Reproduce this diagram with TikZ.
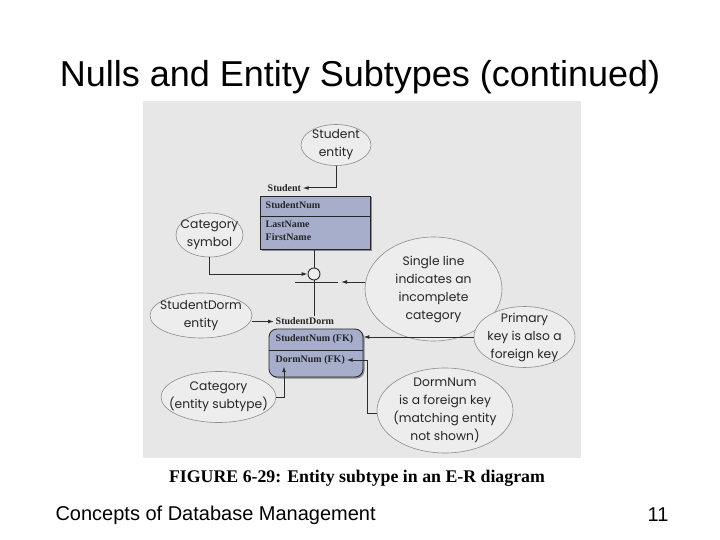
\documentclass[tikz,border=0pt]{standalone}
\usepackage{fontspec}
\setmainfont{Liberation Sans}
\newfontfamily\bubfont{Poppins}
\newfontfamily\keyfont{Liberation Serif}
\usetikzlibrary{shapes.geometric,arrows.meta,shadows,calc}
\definecolor{panelgray}{RGB}{231,231,231}
\definecolor{bubgray}{RGB}{237,237,237}
\definecolor{tabblue}{RGB}{166,174,204}
\definecolor{inkgray}{RGB}{45,45,45}

\begin{document}
\begin{tikzpicture}[x=1pt, y=-1pt]
  \tikzstyle{bubble}=[ellipse, draw=black!45, fill=bubgray, line width=0.6pt, inner sep=0pt]
  \tikzstyle{bubtext}=[align=center, inner sep=0pt, text=black!85,
                       font=\bubfont\fontsize{12.3}{18}\selectfont]
  \tikzstyle{tab}=[draw=black!85, fill=tabblue, line width=0.8pt,
                   drop shadow={shadow xshift=1.5pt, shadow yshift=-1.5pt, fill=black!70, opacity=0.6}]
  \tikzstyle{keytxt}=[anchor=west, inner sep=1.5pt, text=black!85,
                      font=\keyfont\bfseries\fontsize{10}{13}\selectfont]
  \tikzstyle{conn}=[draw=inkgray, line width=1pt]
  \tikzstyle{arr}=[conn, -{Latex[length=6pt, width=4pt]}]

  \useasboundingbox (0,0) rectangle (720,540);
  \fill[panelgray] (143,101) rectangle (581,458);

  \node[font=\fontsize{36}{42}\selectfont] (title) at (360,77) {Nulls and Entity Subtypes (continued)};

  % entity boxes
  \node[tab, minimum width=110, minimum height=53] (stutab) at (315,222.5) {};
  \draw[black!85, line width=0.8pt] ([yshift=-21pt]stutab.north west) -- ([yshift=-21pt]stutab.north east);
  \node[keytxt] (snum) at (264,205) {StudentNum};
  \node[keytxt] (lname) at (264,224) {LastName};
  \node[keytxt] (fname) at (264,237) {FirstName};
  \node[keytxt] (stulbl) at (266,188) {Student};

  \node[tab, rounded corners=8pt, minimum width=94, minimum height=48] (sdtab) at (316,353) {};
  \draw[black!85, line width=0.8pt] ([yshift=-22pt]sdtab.north west) -- ([yshift=-22pt]sdtab.north east);
  \node[keytxt] (sfk) at (274,339) {StudentNum (FK)};
  \node[keytxt] (dfk) at (274,360) {DormNum (FK)};
  \node[keytxt] (sdlbl) at (274,321.5) {StudentDorm};

  % category symbol
  \node[draw=inkgray, circle, line width=0.9pt, minimum size=12pt, inner sep=0pt, fill=bubgray] (catsym) at (314,274) {};
  \coordinate (barl) at (295,282);
  \coordinate (barr) at (338,282);
  \draw[conn] (barl) -- (barr);
  \draw[conn] (stutab.south -| catsym.north) -- (catsym.north);
  \draw[conn] (catsym.south) -- (catsym.south |- sdlbl.north);

  % callouts
  \node[bubble, minimum width=70, minimum height=41, label={[bubtext]center:Student\\entity}] (stu) at (336,145) {};
  \node[bubble, minimum width=67, minimum height=44, label={[bubtext]center:Category\\symbol}] (csym) at (209.5,235) {};
  \node[bubble, minimum width=137, minimum height=104, label={[bubtext]center:Single line\\indicates an\\incomplete\\category}] (single) at (433.5,289) {};
  \node[bubble, minimum width=102, minimum height=45, label={[bubtext]center:StudentDorm\\entity}] (sdent) at (201,315.5) {};
  \node[bubble, minimum width=101, minimum height=61, label={[bubtext]center:Primary\\key is also a\\foreign key}] (pkey) at (524.5,337) {};
  \node[bubble, minimum width=115, minimum height=51, label={[bubtext]center:Category\\(entity subtype)}] (csub) at (218.5,397) {};
  \node[bubble, minimum width=136, minimum height=85, label={[bubtext]center:DormNum\\is a foreign key\\(matching entity\\not shown)}] (dnum) at (445,410.5) {};

  \draw[arr] (stu.south) |- (stulbl.east);
  \draw[arr] (csym.south) |- (catsym.west);
  \draw[arr] (single.west |- barr) -- ([xshift=3pt]barr);
  \draw[arr] (sdent.east |- sdlbl.west) -- (sdlbl.west);
  \draw[arr] (pkey.west) -- (pkey.west -| sdtab.east);
  \draw[arr] (csub.east) -| ([xshift=10pt]dfk.south west);
  \draw[arr] ([yshift=-3pt]dnum.west) -| ($(sdtab.east |- dfk.east)+(4,0)$) -- (dfk.east);

  \node[font=\keyfont\bfseries\fontsize{17.8}{20}\selectfont] (caption) at (357,478) {FIGURE 6-29: Entity subtype in an E-R diagram};
  \node[anchor=west, font=\fontsize{20}{24}\selectfont] (course) at (52,515) {Concepts of Database Management};
  \node[anchor=east, font=\fontsize{20}{24}\selectfont] (pagenum) at (672,515) {11};
\end{tikzpicture}
\end{document}
